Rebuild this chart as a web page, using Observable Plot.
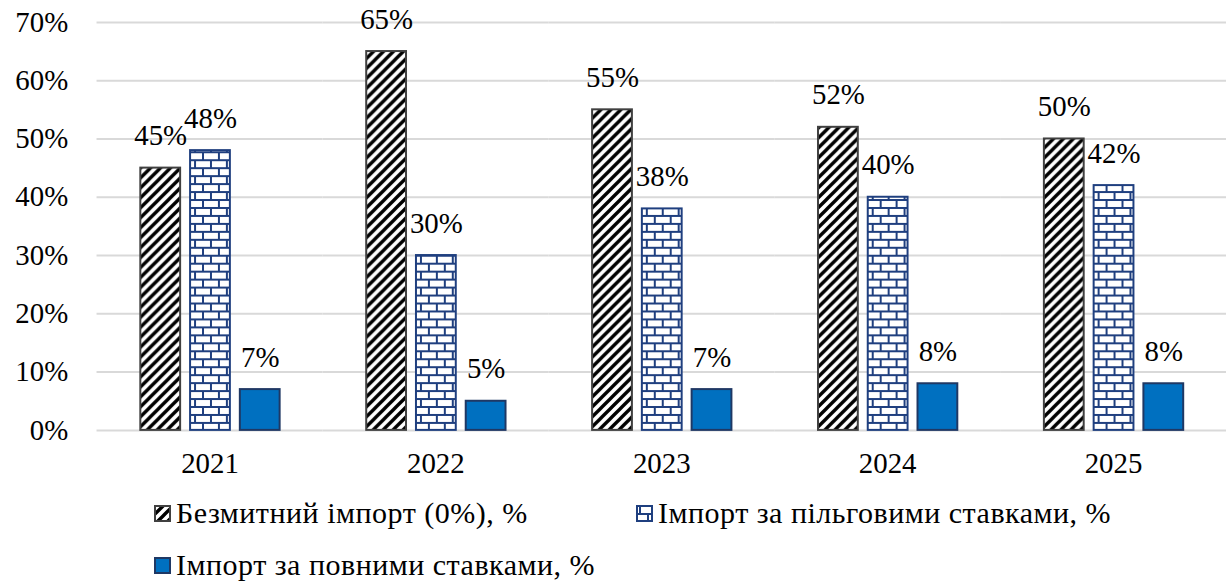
<!DOCTYPE html>
<html><head><meta charset="utf-8">
<script src="https://cdn.jsdelivr.net/npm/d3@7"></script>
<script src="https://cdn.jsdelivr.net/npm/@observablehq/plot@0.6"></script>
<style>
html,body{margin:0;padding:0;background:#fff;overflow:hidden;width:1226px;height:585px}
#wrap{position:relative;width:1226px;height:585px}
#chart{position:absolute;left:0;top:0}
.legend{position:absolute;left:0;top:0;font-family:'Liberation Serif',Tinos,'Times New Roman','DejaVu Serif',serif;font-size:30px;letter-spacing:0.5px;color:#000;white-space:nowrap;line-height:1}
.legend .item{position:absolute;display:flex;align-items:center}
.legend svg{margin-right:5px}
</style></head><body>
<svg width="0" height="0" style="position:absolute">
<defs>
<pattern id="hatch" patternUnits="userSpaceOnUse" width="10" height="10">
<rect width="10" height="10" fill="#fff"/>
<path d="M-3,3 L3,-3 M0,10 L10,0 M7,13 L13,7" stroke="#000" stroke-width="3.4"/>
</pattern>
<pattern id="brick" patternUnits="userSpaceOnUse" width="16" height="16">
<rect width="16" height="16" fill="#fff"/>
<path d="M0,1 H16 M0,9 H16 M4,0 V8 M12,8 V16" stroke="#1F3F7F" stroke-width="2"/>
</pattern>
</defs></svg>
<div id="wrap"><div id="chart"></div><div class="legend" id="legend"></div></div>
<script>
const years = ["2021", "2022", "2023", "2024", "2025"];
const seriesNames = ["Безмитний імпорт (0%), %", "Імпорт за пільговими ставками, %", "Імпорт за повними ставками, %"];
const dutyFree = [45, 65, 55, 52, 50];
const preferential = [48, 30, 38, 40, 42];
const fullRate = [7, 5, 7, 8, 8];
const yTicks = [0, 10, 20, 30, 40, 50, 60, 70];

const seriesValues = [dutyFree, preferential, fullRate];
const fills = ["url(#hatch)", "url(#brick)", "#0070C0"];
const strokes = ["#404040", "#1F3F7F", "#1F3864"];
const font = "'Liberation Serif', Tinos, 'Times New Roman', 'DejaVu Serif', serif";

const data = years.flatMap((yr, i) => seriesNames.map((s, k) => ({year: yr, series: s, k, value: seriesValues[k][i]})));

const marks = [Plot.gridY(yTicks, {stroke: "#d9d9d9", strokeOpacity: 1, strokeWidth: 2})];
seriesNames.forEach((s, k) => {
  marks.push(Plot.barY(data.filter(d => d.k === k), {
    fx: "year", x: "series", y: "value",
    fill: fills[k], stroke: strokes[k], strokeWidth: 2
  }));
});
marks.push(Plot.text(data, {
  fx: "year", x: "series", y: "value", text: d => d.value + "%",
  lineAnchor: "bottom", dy: -23, fontSize: 29, fontFamily: font, fill: "#000"
}));

const chart = Plot.plot({
  width: 1232, height: 490,
  marginLeft: 97, marginRight: 0, marginTop: 22, marginBottom: 58,
  style: {fontFamily: font, fontSize: "29px", color: "#000", background: "#fff"},
  fx: {domain: years, padding: 0, label: null, tickSize: 0, tickPadding: 22, axis: "bottom"},
  x: {domain: seriesNames, paddingInner: 0.2, paddingOuter: 0.87, axis: null},
  y: {domain: [0, 70], ticks: yTicks, tickFormat: d => d + "%", label: null, tickSize: 0, tickPadding: 29},
  marks
});
document.getElementById("chart").appendChild(chart);

const legend = document.getElementById("legend");
const positions = [[154, 498], [636, 498], [154, 550]];
seriesNames.forEach((s, k) => {
  const item = document.createElement("div");
  item.className = "item";
  item.style.left = positions[k][0] + "px";
  item.style.top = positions[k][1] + "px";
  item.innerHTML = `<svg width="17" height="17"><rect x="1" y="1" width="15" height="15" fill="${fills[k]}" stroke="${strokes[k]}" stroke-width="2"/></svg><span>${s}</span>`;
  legend.appendChild(item);
});
</script>
</body></html>
